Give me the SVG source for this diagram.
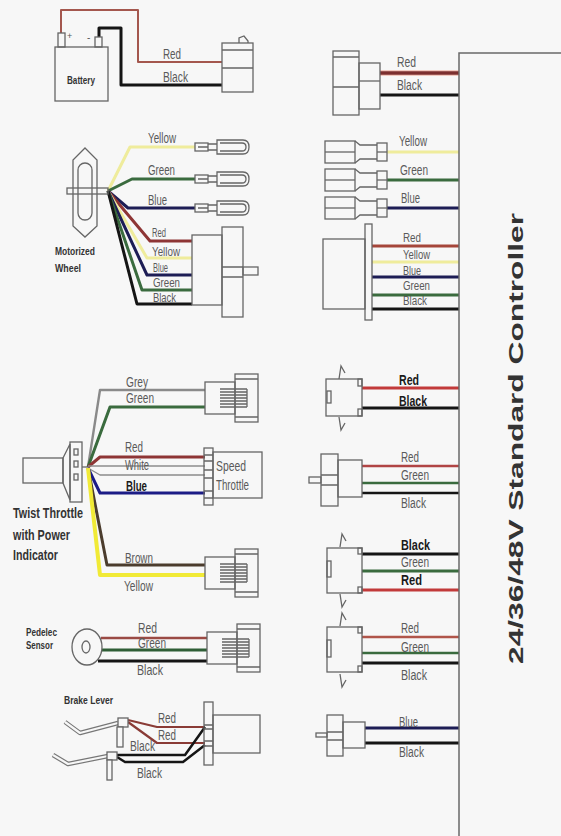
<svg xmlns="http://www.w3.org/2000/svg" xmlns:xlink="http://www.w3.org/1999/xlink" width="561" height="836" viewBox="0 0 561 836">
  <style>
    .ol { fill: none; stroke: #666; stroke-width: 1.3; }
    .olf { fill: #f7f7f7; stroke: #666; stroke-width: 1.3; }
    .w { fill: none; stroke-width: 3; stroke-linejoin: round; }
    .red { stroke: #8e3535; }
    .rd2 { stroke: #c23a3a; }
    .blk { stroke: #151515; }
    .yel { stroke: #efec9c; }
    .ylw { stroke: #f1ea36; stroke-width: 4; }
    .grn { stroke: #3a6b3e; }
    .blu { stroke: #1d1d55; }
    .gry { stroke: #8a8a8a; stroke-width: 2.4; }
    .brn { stroke: #4b3c2d; }
    .wht { stroke: #8c8c8c; stroke-width: 1.3; }
    .lbl { font-family: "Liberation Sans", Arial, sans-serif; font-size: 14px; fill: #5a5a5a; }
    .sm { font-size: 12px; }
    .bl { font-family: "Liberation Sans", Arial, sans-serif; font-size: 14px; font-weight: bold; fill: #1a1a1a; }
    .nm { font-family: "Liberation Sans", Arial, sans-serif; font-weight: bold; fill: #333; }
  </style>
  <defs>
    <!-- female bullet connector, wire enters at left -->
    <g id="fbullet" class="ol">
      <rect x="0" y="-4" width="13" height="8"/>
      <path d="M3,0 H13 M13,-3 H22 M13,3 H22"/>
      <path d="M22,-7 H48 Q54,-7 54,0 Q54,7 48,7 H22 Z"/>
      <path d="M25,-4 H47 Q51,-4 51,0 Q51,4 47,4 H25"/>
    </g>
    <!-- male spade connector, wire leaves at right -->
    <g id="mspade" class="ol">
      <rect x="0" y="-11" width="30" height="22"/>
      <path d="M0,0 H30"/>
      <path d="M30,-11 L35,-7 H52 M30,11 L35,7 H52"/>
      <rect x="52" y="-9" width="10" height="18"/>
      <path d="M52,0 H62"/>
    </g>
    <!-- multi-pin plug with striped contacts -->
    <g id="plug" class="ol">
      <rect x="0" y="-16" width="30" height="32"/>
      <rect x="30" y="-24" width="23" height="48"/>
      <path d="M30,-19 H53 M30,19 H53"/>
      <path d="M15,-9 H42 M15,-6 H42 M15,-3 H42 M15,0 H42 M15,3 H42 M15,6 H42 M15,9 H42 M42,-9 V9"/>
    </g>
    <!-- small latch flag -->
    <path id="flagUp" class="ol" d="M0,13 L2,0 L6,7"/>
    <path id="flagDn" class="ol" d="M0,0 L2,13 L6,6"/>
  </defs>

  <rect width="561" height="836" fill="#f7f7f7"/>

  <!-- ================= wires and wire labels ================= -->
  <g id="connectors">
    <!-- battery -->
    <polyline class="w red" style="stroke:#a4574e;stroke-width:2" points="61,33 61,10 138,10 138,62 222,62"/>
    <polyline class="w blk" points="99,37 99,28 121,28 121,85 222,85"/>
    <text class="lbl" x="163" y="59" textLength="18" lengthAdjust="spacingAndGlyphs">Red</text>
    <text class="lbl" x="163" y="82" textLength="25" lengthAdjust="spacingAndGlyphs">Black</text>

    <!-- battery to controller -->
    <line class="w" x1="380" y1="73" x2="459" y2="73" style="stroke:#f2c9c0;stroke-width:6"/>
    <line class="w red" x1="380" y1="73" x2="459" y2="73" style="stroke:#7c2f2f;stroke-width:3.5"/>
    <line class="w blk" x1="380" y1="95" x2="459" y2="95"/>
    <text class="lbl" x="397" y="67" textLength="19" lengthAdjust="spacingAndGlyphs">Red</text>
    <text class="lbl" x="397" y="90" textLength="25" lengthAdjust="spacingAndGlyphs">Black</text>

    <!-- motor wires -->
    <polyline class="w yel" points="108,191 130,147 195,147"/>
    <polyline class="w grn" points="108,191 132,179 195,179"/>
    <polyline class="w blu" points="108,191 128,208 195,208"/>
    <polyline class="w red" points="108,191 150,241 192,241"/>
    <polyline class="w yel" points="108,191 147,258 192,258"/>
    <polyline class="w blu" points="108,191 147,275 192,275"/>
    <polyline class="w grn" points="108,191 142,290 192,290"/>
    <polyline class="w blk" points="108,191 137,304 192,304"/>
    <text class="lbl" x="148" y="143" textLength="28" lengthAdjust="spacingAndGlyphs">Yellow</text>
    <text class="lbl" x="148" y="175" textLength="27" lengthAdjust="spacingAndGlyphs">Green</text>
    <text class="lbl" x="148" y="205" textLength="19" lengthAdjust="spacingAndGlyphs">Blue</text>
    <text class="lbl sm" x="152" y="237" textLength="14" lengthAdjust="spacingAndGlyphs">Red</text>
    <text class="lbl sm" x="152" y="256" textLength="28" lengthAdjust="spacingAndGlyphs">Yellow</text>
    <text class="lbl sm" x="153" y="272" textLength="15" lengthAdjust="spacingAndGlyphs">Blue</text>
    <text class="lbl sm" x="153" y="287" textLength="27" lengthAdjust="spacingAndGlyphs">Green</text>
    <text class="lbl sm" x="153" y="302" textLength="23" lengthAdjust="spacingAndGlyphs">Black</text>

    <!-- motor to controller -->
    <line class="w yel" x1="387" y1="152" x2="459" y2="152"/>
    <line class="w grn" x1="387" y1="180" x2="459" y2="180"/>
    <line class="w blu" x1="387" y1="208" x2="459" y2="208"/>
    <line class="w red" x1="372" y1="246" x2="459" y2="246" style="stroke:#a5463a"/>
    <line class="w yel" x1="372" y1="262" x2="459" y2="262"/>
    <line class="w blu" x1="372" y1="277" x2="459" y2="277"/>
    <line class="w grn" x1="372" y1="295" x2="459" y2="295"/>
    <line class="w blk" x1="372" y1="309" x2="459" y2="309"/>
    <text class="lbl" x="399" y="146" textLength="28" lengthAdjust="spacingAndGlyphs">Yellow</text>
    <text class="lbl" x="400" y="175" textLength="28" lengthAdjust="spacingAndGlyphs">Green</text>
    <text class="lbl" x="401" y="203" textLength="19" lengthAdjust="spacingAndGlyphs">Blue</text>
    <text class="lbl sm" x="403" y="242" textLength="18" lengthAdjust="spacingAndGlyphs">Red</text>
    <text class="lbl sm" x="403" y="259" textLength="27" lengthAdjust="spacingAndGlyphs">Yellow</text>
    <text class="lbl sm" x="403" y="275" textLength="18" lengthAdjust="spacingAndGlyphs">Blue</text>
    <text class="lbl sm" x="403" y="290" textLength="27" lengthAdjust="spacingAndGlyphs">Green</text>
    <text class="lbl sm" x="403" y="305" textLength="24" lengthAdjust="spacingAndGlyphs">Black</text>

    <!-- throttle wires -->
    <polyline class="w gry" points="88,467 100,390 205,390"/>
    <polyline class="w grn" points="88,467 110,407 205,407"/>
    <polyline class="w red" points="88,467 100,457 205,457"/>
    <polyline class="w wht" points="88,466 205,466"/>
    <polyline class="w wht" points="88,468 100,475 205,475"/>
    <polyline class="w blu" style="stroke:#1c1c86" points="88,468 100,493 205,493"/>
    <polyline class="w brn" points="88,468 107,565 205,565"/>
    <polyline class="w ylw" points="88,468 100,575 205,575"/>
    <text class="lbl" x="126" y="387" textLength="22" lengthAdjust="spacingAndGlyphs">Grey</text>
    <text class="lbl" x="126" y="403" textLength="28" lengthAdjust="spacingAndGlyphs">Green</text>
    <text class="lbl" x="125" y="452" textLength="18" lengthAdjust="spacingAndGlyphs">Red</text>
    <text class="lbl" x="125" y="470" textLength="24" lengthAdjust="spacingAndGlyphs">White</text>
    <text class="bl" x="126" y="491" textLength="21" lengthAdjust="spacingAndGlyphs">Blue</text>
    <text class="lbl" x="125" y="563" textLength="28" lengthAdjust="spacingAndGlyphs">Brown</text>
    <text class="lbl" x="124" y="591" textLength="29" lengthAdjust="spacingAndGlyphs">Yellow</text>

    <!-- throttle side to controller -->
    <line class="w rd2" x1="362" y1="388" x2="459" y2="388"/>
    <line class="w blk" x1="362" y1="408" x2="459" y2="408"/>
    <text class="bl" x="399" y="385" textLength="20" lengthAdjust="spacingAndGlyphs">Red</text>
    <text class="bl" x="399" y="406" textLength="28" lengthAdjust="spacingAndGlyphs">Black</text>

    <line class="w red" x1="362" y1="466" x2="459" y2="466" style="stroke:#b04444;stroke-width:2.5"/>
    <line class="w grn" x1="362" y1="483" x2="459" y2="483" style="stroke-width:2.5"/>
    <line class="w blk" x1="362" y1="493" x2="459" y2="493" style="stroke-width:2.5"/>
    <text class="lbl" x="401" y="462" textLength="18" lengthAdjust="spacingAndGlyphs">Red</text>
    <text class="lbl" x="401" y="480" textLength="28" lengthAdjust="spacingAndGlyphs">Green</text>
    <text class="lbl" x="401" y="508" textLength="25" lengthAdjust="spacingAndGlyphs">Black</text>

    <line class="w blk" x1="362" y1="554" x2="459" y2="554"/>
    <line class="w grn" x1="362" y1="571" x2="459" y2="571"/>
    <line class="w rd2" x1="362" y1="590" x2="459" y2="590"/>
    <text class="bl" x="401" y="550" textLength="29" lengthAdjust="spacingAndGlyphs">Black</text>
    <text class="lbl" x="401" y="567" textLength="28" lengthAdjust="spacingAndGlyphs">Green</text>
    <text class="bl" x="401" y="585" textLength="21" lengthAdjust="spacingAndGlyphs">Red</text>

    <!-- pedelec sensor -->
    <polyline class="w red" style="stroke:#9a4a44;stroke-width:2.5" points="101,638 207,638"/>
    <polyline class="w grn" style="stroke:#2f5e36" points="102,650 207,650"/>
    <polyline class="w blk" points="98,661 207,661"/>
    <text class="lbl" x="138" y="633" textLength="19" lengthAdjust="spacingAndGlyphs">Red</text>
    <text class="lbl" x="138" y="648" textLength="28" lengthAdjust="spacingAndGlyphs">Green</text>
    <text class="lbl" x="137" y="675" textLength="26" lengthAdjust="spacingAndGlyphs">Black</text>

    <line class="w red" x1="362" y1="637" x2="459" y2="637" style="stroke:#b0554a;stroke-width:2.5"/>
    <line class="w grn" x1="362" y1="653" x2="459" y2="653" style="stroke-width:2.5"/>
    <line class="w blk" x1="362" y1="663" x2="459" y2="663"/>
    <text class="lbl" x="401" y="633" textLength="18" lengthAdjust="spacingAndGlyphs">Red</text>
    <text class="lbl" x="401" y="652" textLength="28" lengthAdjust="spacingAndGlyphs">Green</text>
    <text class="lbl" x="401" y="680" textLength="26" lengthAdjust="spacingAndGlyphs">Black</text>

    <!-- brake levers -->
    <polyline class="w red" style="stroke:#8a3b36;stroke-width:2.2" points="128,720 157,727 205,727"/>
    <polyline class="w red" style="stroke:#8a3b36;stroke-width:2.2" points="128,722 157,743 205,743"/>
    <polyline class="w blk" style="stroke-width:2.5" points="117,755 185,755 205,727"/>
    <polyline class="w blk" style="stroke-width:2.5" points="117,757 125,762 183,762 205,745"/>
    <text class="lbl" x="158" y="723" textLength="18" lengthAdjust="spacingAndGlyphs">Red</text>
    <text class="lbl" x="158" y="740" textLength="18" lengthAdjust="spacingAndGlyphs">Red</text>
    <text class="lbl" x="130" y="751" textLength="25" lengthAdjust="spacingAndGlyphs">Black</text>
    <text class="lbl" x="137" y="778" textLength="25" lengthAdjust="spacingAndGlyphs">Black</text>

    <line class="w blu" x1="365" y1="728" x2="459" y2="728"/>
    <line class="w blk" x1="365" y1="743" x2="459" y2="743"/>
    <text class="lbl" x="399" y="727" textLength="19" lengthAdjust="spacingAndGlyphs">Blue</text>
    <text class="lbl" x="399" y="757" textLength="25" lengthAdjust="spacingAndGlyphs">Black</text>
  </g>

  <!-- ================= components ================= -->
  <g id="controller">
    <path d="M459,836 V53 H561" fill="none" stroke="#6a6a6a" stroke-width="1.5"/>
    <text class="nm" transform="translate(523,438.5) rotate(-90)" text-anchor="middle" font-size="21" fill="#111" textLength="451" lengthAdjust="spacingAndGlyphs">24/36/48V Standard Controller</text>
  </g>

  <g id="battery">
    <rect class="ol" x="55" y="47" width="53" height="54"/>
    <rect class="ol" x="58" y="33" width="7" height="14"/>
    <rect class="ol" x="95" y="37" width="7" height="10"/>
    <text class="lbl" x="67" y="39" style="font-size:9px">+</text>
    <text class="lbl" x="87" y="41" style="font-size:10px">-</text>
    <text class="nm" x="67" y="84" font-size="11" textLength="28" lengthAdjust="spacingAndGlyphs">Battery</text>
  </g>

  <g id="battery-plug">
    <rect class="ol" x="222" y="43" width="31" height="49"/>
    <path class="ol" d="M222,50 H253 M222,68 H253"/>
    <path class="ol" d="M239,43 V38 L244,36 L248,41 V43"/>
  </g>

  <g id="battery-socket">
    <rect class="ol" x="333" y="51" width="26" height="64"/>
    <path class="ol" d="M333,57 H359 M333,87 H359"/>
    <rect class="ol" x="359" y="63" width="21" height="46"/>
    <path class="ol" d="M359,81 H380"/>
  </g>

  <g id="motor">
    <polygon class="ol" points="85,148 97,160 97,226 85,237 73,226 73,160"/>
    <rect class="ol" x="78" y="163" width="14" height="57" rx="7"/>
    <rect class="ol" x="67" y="188" width="41" height="6"/>
    <text class="nm" x="55" y="255" font-size="11" textLength="40" lengthAdjust="spacingAndGlyphs">Motorized</text>
    <text class="nm" x="55" y="272" font-size="11" textLength="26" lengthAdjust="spacingAndGlyphs">Wheel</text>
  </g>

  <g id="motor-bullets">
    <use xlink:href="#fbullet" x="195" y="147"/>
    <use xlink:href="#fbullet" x="195" y="179"/>
    <use xlink:href="#fbullet" x="195" y="208"/>
  </g>

  <g id="motor-hall-plug">
    <rect class="ol" x="192" y="235" width="30" height="70"/>
    <rect class="ol" x="222" y="227" width="21" height="90"/>
    <path class="ol" d="M222,267 H243 M222,277 H243"/>
    <rect class="ol" x="243" y="267" width="15" height="8"/>
  </g>

  <g id="phase-spades">
    <use xlink:href="#mspade" x="325" y="152"/>
    <use xlink:href="#mspade" x="325" y="180"/>
    <use xlink:href="#mspade" x="325" y="208"/>
  </g>

  <g id="hall-socket">
    <rect class="ol" x="323" y="239" width="42" height="70"/>
    <rect class="ol" x="365" y="224" width="7" height="96"/>
  </g>

  <g id="throttle">
    <rect class="ol" x="23" y="458" width="40" height="25"/>
    <polygon class="ol" points="63,458 70,444 70,500 63,483"/>
    <rect class="ol" x="70" y="442" width="12" height="60"/>
    <rect class="ol" x="74" y="449" width="4" height="6"/>
    <rect class="ol" x="74" y="461" width="4" height="6"/>
    <rect class="ol" x="74" y="474" width="4" height="6"/>
    <path class="ol" d="M82,467 H88"/>
    <text class="nm" x="13" y="518" font-size="15" textLength="70" lengthAdjust="spacingAndGlyphs">Twist Throttle</text>
    <text class="nm" x="13" y="540" font-size="15" textLength="57" lengthAdjust="spacingAndGlyphs">with Power</text>
    <text class="nm" x="13" y="560" font-size="15" textLength="45" lengthAdjust="spacingAndGlyphs">Indicator</text>
  </g>

  <g id="indicator-plug">
    <use xlink:href="#plug" x="205" y="398"/>
  </g>

  <g id="speed-throttle-plug">
    <rect class="ol" x="204" y="448" width="9" height="57"/>
    <path class="ol" d="M204,455 H213 M204,461 H213 M204,470 H213 M204,478 H213 M204,491 H213 M204,498 H213"/>
    <rect class="ol" x="213" y="452" width="49" height="46"/>
    <text class="lbl" x="216" y="471" textLength="30" lengthAdjust="spacingAndGlyphs">Speed</text>
    <text class="lbl" x="216" y="490" textLength="33" lengthAdjust="spacingAndGlyphs">Throttle</text>
  </g>

  <g id="cruise-plug">
    <use xlink:href="#plug" x="205" y="573"/>
  </g>

  <g id="indicator-socket">
    <use xlink:href="#flagUp" x="339" y="366"/>
    <rect class="ol" x="326" y="379" width="36" height="37"/>
    <rect class="ol" x="327" y="391" width="4" height="12"/>
    <rect class="ol" x="358" y="379" width="4" height="7"/>
    <rect class="ol" x="358" y="409" width="4" height="7"/>
    <use xlink:href="#flagDn" x="339" y="417"/>
  </g>

  <g id="throttle-socket">
    <rect class="ol" x="321" y="454" width="17" height="52"/>
    <path class="ol" d="M321,475 H338 M321,485 H338"/>
    <rect class="ol" x="338" y="460" width="24" height="37"/>
    <rect class="ol" x="309" y="477" width="12" height="6"/>
  </g>

  <g id="cruise-socket">
    <use xlink:href="#flagUp" x="340" y="534"/>
    <rect class="ol" x="327" y="548" width="35" height="45"/>
    <rect class="ol" x="327" y="561" width="4" height="16"/>
    <rect class="ol" x="358" y="548" width="4" height="6"/>
    <rect class="ol" x="358" y="587" width="4" height="6"/>
    <use xlink:href="#flagDn" x="340" y="594"/>
  </g>

  <g id="pedelec">
    <text class="nm" x="26" y="636" font-size="11" textLength="31" lengthAdjust="spacingAndGlyphs">Pedelec</text>
    <text class="nm" x="26" y="649" font-size="11" textLength="27" lengthAdjust="spacingAndGlyphs">Sensor</text>
    <ellipse class="ol" cx="87" cy="647" rx="15" ry="18"/>
    <ellipse class="ol" cx="86" cy="647" rx="4" ry="6"/>
  </g>

  <g id="pedelec-plug">
    <use xlink:href="#plug" x="207" y="648"/>
  </g>

  <g id="pedelec-socket">
    <use xlink:href="#flagUp" x="340" y="613"/>
    <rect class="ol" x="327" y="627" width="35" height="45"/>
    <rect class="ol" x="327" y="640" width="4" height="17"/>
    <rect class="ol" x="358" y="627" width="4" height="6"/>
    <rect class="ol" x="358" y="666" width="4" height="6"/>
    <use xlink:href="#flagDn" x="340" y="674"/>
  </g>

  <g id="brake-levers">
    <text class="nm" x="64" y="704" font-size="10" textLength="49" lengthAdjust="spacingAndGlyphs">Brake Lever</text>
    <polyline points="65,722 80,733 118,723" fill="none" stroke="#777" stroke-width="4.5" stroke-linejoin="round"/>
    <polyline points="65,722 80,733 118,723" fill="none" stroke="#f7f7f7" stroke-width="2.2" stroke-linejoin="round"/>
    <rect class="olf" x="118" y="718" width="10" height="9"/>
    <rect class="olf" x="117" y="727" width="6" height="20"/>
    <polyline points="53,755 68,764 108,756" fill="none" stroke="#777" stroke-width="4.5" stroke-linejoin="round"/>
    <polyline points="53,755 68,764 108,756" fill="none" stroke="#f7f7f7" stroke-width="2.2" stroke-linejoin="round"/>
    <rect class="olf" x="107" y="752" width="10" height="8"/>
    <rect class="olf" x="107" y="760" width="5" height="20"/>
  </g>

  <g id="brake-plug">
    <rect class="ol" x="204" y="702" width="9" height="63"/>
    <path class="ol" d="M204,725 H213 M204,729 H213 M204,741 H213 M204,746 H213"/>
    <rect class="ol" x="213" y="715" width="47" height="38"/>
  </g>

  <g id="brake-socket">
    <rect class="ol" x="327" y="715" width="16" height="41"/>
    <path class="ol" d="M327,732 H343 M327,740 H343"/>
    <rect class="ol" x="343" y="722" width="22" height="26"/>
    <rect class="ol" x="316" y="733" width="11" height="4"/>
  </g>
</svg>
